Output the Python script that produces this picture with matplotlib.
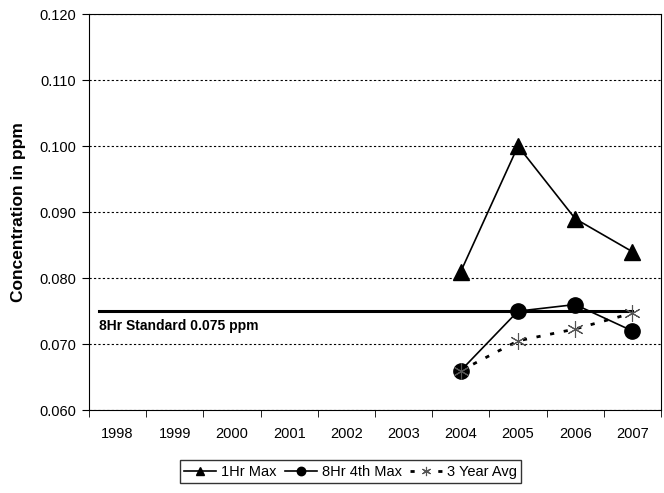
import numpy as np
import matplotlib.pyplot as plt
from matplotlib.ticker import FixedLocator

plt.rcParams['font.family'] = ['Liberation Sans', 'DejaVu Sans']

years = ['1998', '1999', '2000', '2001', '2002', '2003', '2004', '2005', '2006', '2007']
# values for 2004-2007
hr1_max = [0.081, 0.100, 0.089, 0.084]
hr8_4th = [0.066, 0.075, 0.076, 0.072]
avg3yr = [0.066, 0.0705, 0.0723, 0.0747]
standard = 0.075

x = np.arange(len(years))
xs = x[6:]

fig = plt.figure(figsize=(6.64, 4.93), dpi=100)
ax = fig.add_axes([0.134, 0.168, 0.8615, 0.8035])

# 8 hour standard line
ax.plot([-0.32, 9], [standard, standard], color='black', lw=2.2, zorder=2)
ax.text(-0.32, 0.0738, '8Hr Standard 0.075 ppm', fontsize=10, fontweight='bold',
        va='top', ha='left')

ax.plot(xs, hr1_max, color='black', lw=1.2, marker='^', ms=11, label='1Hr Max', zorder=3)
ax.plot(xs, hr8_4th, color='black', lw=1.2, marker='o', ms=11, label='8Hr 4th Max', zorder=3)
ax.plot(xs, avg3yr, color='black', lw=2, ls=(0, (1.5, 3.5)), marker=(6, 2, 0), ms=12,
        mew=0.8, mec='#555555', label='3 Year Avg', zorder=3)

ax.set_xlim(-0.5, 9.5)
ax.set_ylim(0.060, 0.120)
yt = np.arange(0.060, 0.1201, 0.010)
ax.set_yticks(yt)
ax.set_yticklabels(['%.3f' % v for v in yt], fontsize=10.5)
ax.set_xticks(x)
ax.set_xticklabels(years, fontsize=10.5)
ax.xaxis.set_minor_locator(FixedLocator(np.arange(-0.5, 10, 1)))
ax.tick_params(axis='x', which='major', length=0, pad=12)
ax.tick_params(axis='x', which='minor', length=5, direction='out')
ax.tick_params(axis='y', length=5, direction='out', pad=4)
ax.grid(axis='y', color='black', ls=(0, (2, 2)), lw=0.8)
ax.set_axisbelow(True)
for s in ax.spines.values():
    s.set_linewidth(0.8)
ax.set_ylabel('Concentration in ppm', fontsize=12.5, fontweight='bold', labelpad=10)

fig.legend(loc='lower center', bbox_to_anchor=(0.528, 0.005), ncol=3, fontsize=10.5,
           frameon=True, fancybox=False, edgecolor='black', handlelength=2.2,
           handletextpad=0.3, columnspacing=0.6, borderpad=0.3, markerscale=0.55)

fig.savefig('out.png', dpi=100)
